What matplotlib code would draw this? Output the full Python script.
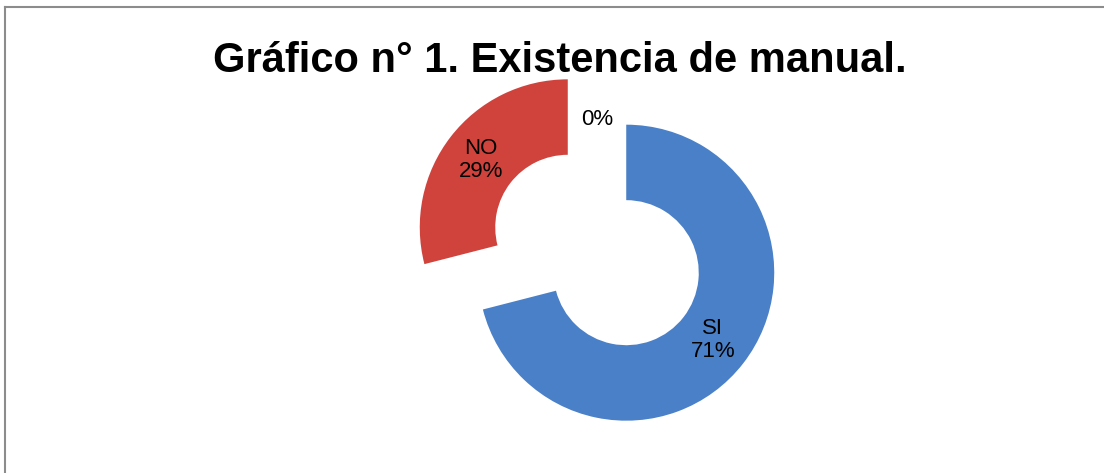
import numpy as np
import matplotlib
matplotlib.use("Agg")
import matplotlib.pyplot as plt
from matplotlib.lines import Line2D

# datos del grafico
categorias = ["SI", "NO", ""]
valores = [71, 29, 0]
colores = ["#4a80c8", "#d0433d", "#9bbb59"]

titulo = "Gráfico n° 1. Existencia de manual."
fuente = ["Liberation Sans", "DejaVu Sans"]

fig = plt.figure(figsize=(11.04, 4.73), dpi=100)
ax = fig.add_axes([0, 0, 1, 1])

wedges, _ = ax.pie(valores, colors=colores, startangle=90, counterclock=False,
                   explode=[0.25, 0.25, 0.25],
                   wedgeprops=dict(width=0.51, edgecolor="none"))

# etiquetas de datos
total = sum(valores)
for w, cat, v in zip(wedges, categorias, valores):
    ang = np.deg2rad((w.theta1 + w.theta2) / 2)
    cx, cy = w.center
    pct = f"{round(100 * v / total)}%"
    if v == 0:
        cx, cy = 0, 0
        r = 0.88
        txt = pct
    else:
        r = 0.74
        txt = f"{cat}\n{pct}"
    ax.text(cx + r * np.cos(ang), cy + r * np.sin(ang), txt,
            ha="center", va="center", fontsize=16, family=fuente,
            linespacing=1.1)

# misma escala en x e y: 1 unidad = 148 px
ax.set_aspect("auto")
ax.set_xlim(-597 / 148, (1104 - 597) / 148)
ax.set_ylim(-223 / 148, 250 / 148)
ax.axis("off")

fig.text(560 / 1104, 1 - 61 / 473, titulo, ha="center", va="center",
         fontsize=30, fontweight="bold", family=fuente)

# marco
fig.add_artist(Line2D([5 / 1104, 5 / 1104], [0, 1 - 7 / 473], color="#8c8c8c", lw=1.5))
fig.add_artist(Line2D([5 / 1104, 1], [1 - 7 / 473, 1 - 7 / 473], color="#8c8c8c", lw=1.5))

fig.savefig("out.png", dpi=100)
